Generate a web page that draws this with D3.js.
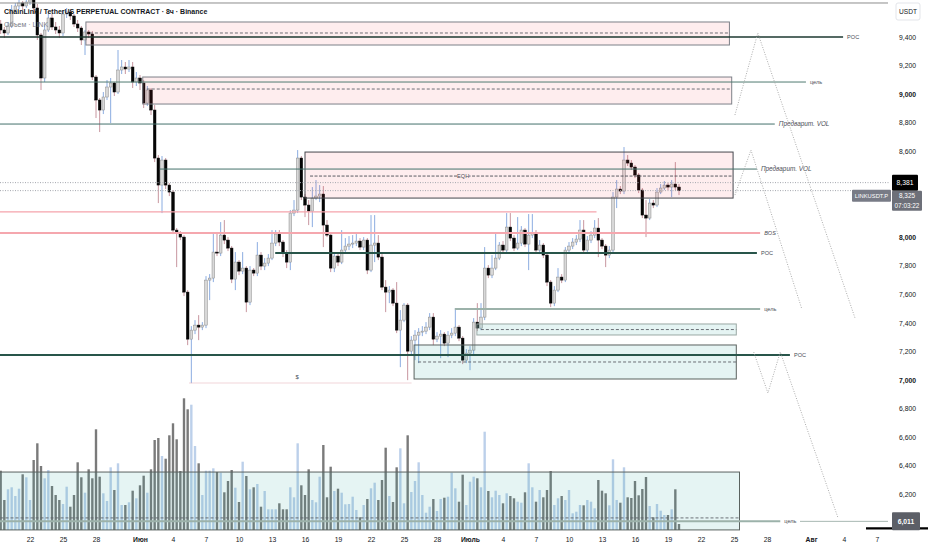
<!DOCTYPE html>
<html>
<head>
<meta charset="utf-8">
<script src="https://cdn.jsdelivr.net/npm/d3@7"></script>
<style>
  html, body { margin: 0; padding: 0; background: #fff; }
  svg { display: block; font-family: "Liberation Sans", Arial, sans-serif; }
</style>
</head>
<body>
<svg id="chart" width="932" height="550"></svg>
<script>
// LINKUSDT.P, 8h candles, 19 May -> 20 Jul
const firstBar = new Date(2022, 4, 19, 8);
const barHours = 8;
const firstOpen = 9.491;

const closes = [
  9.449, 9.428, 9.477, 9.589, 9.617, 9.638, 9.617, 9.645, 9.659, 9.603,
  9.414, 9.113, 9.449, 9.533, 9.470, 9.449, 9.428, 9.561, 9.575, 9.547,
  9.491, 9.463, 9.379, 9.435, 9.421, 9.120, 8.959, 8.889, 8.980, 9.050,
  9.078, 9.015, 9.169, 9.190, 9.176, 9.190, 9.085, 9.113, 9.078, 8.938,
  9.029, 8.889, 8.553, 8.364, 8.539, 8.364, 8.315, 8.049, 8.028, 8.000,
  7.615, 7.286, 7.349, 7.384, 7.370, 7.384, 7.699, 7.713, 7.895, 7.888,
  8.014, 7.979, 7.923, 7.706, 7.825, 7.762, 7.783, 7.545, 7.769, 7.748,
  7.874, 7.797, 7.818, 7.853, 7.958, 8.021, 7.965, 7.888, 7.825, 8.168,
  8.189, 8.553, 8.280, 8.224, 8.182, 8.273, 8.287, 8.301, 8.084, 8.014,
  7.783, 7.867, 7.825, 7.909, 7.937, 7.951, 7.958, 7.972, 7.930, 7.979,
  7.769, 7.944, 7.958, 7.860, 7.650, 7.615, 7.629, 7.538, 7.349, 7.419,
  7.524, 7.202, 7.279, 7.314, 7.335, 7.342, 7.370, 7.440, 7.286, 7.307,
  7.321, 7.258, 7.314, 7.328, 7.370, 7.293, 7.139, 7.188, 7.209, 7.405,
  7.363, 7.440, 7.783, 7.734, 7.783, 7.853, 7.944, 7.909, 8.070, 7.993,
  7.923, 7.958, 8.049, 7.951, 8.014, 8.028, 7.909, 7.944, 7.874, 7.685,
  7.538, 7.629, 7.720, 7.699, 7.909, 7.937, 7.965, 7.986, 8.049, 7.909,
  7.979, 8.014, 8.063, 7.979, 7.937, 7.874, 7.909, 8.280, 8.336, 8.322,
  8.539, 8.518, 8.490, 8.434, 8.329, 8.154, 8.133, 8.238, 8.224, 8.315,
  8.343, 8.364, 8.350, 8.371, 8.350, 8.325
];

const highs = [
  9.519, 9.470, 9.505, 9.624, 9.638, 9.659, 9.652, 9.680, 9.701, 9.680,
  9.631, 9.428, 9.484, 9.575, 9.561, 9.505, 9.477, 9.589, 9.603, 9.589,
  9.561, 9.519, 9.477, 9.449, 9.449, 9.442, 9.134, 8.973, 9.015, 9.099,
  9.113, 9.085, 9.309, 9.239, 9.225, 9.239, 9.225, 9.155, 9.134, 9.099,
  9.057, 9.043, 8.924, 8.574, 8.567, 8.553, 8.378, 8.329, 8.063, 8.042,
  8.014, 7.629, 7.377, 7.419, 7.454, 7.405, 7.727, 7.741, 8.028, 8.028,
  8.105, 8.119, 8.000, 7.937, 7.895, 7.839, 7.895, 7.797, 7.797, 7.783,
  7.965, 7.895, 7.853, 7.881, 8.049, 8.049, 8.049, 7.979, 7.909, 8.189,
  8.259, 8.609, 8.567, 8.301, 8.259, 8.350, 8.399, 8.364, 8.357, 8.119,
  8.035, 7.895, 7.881, 8.049, 7.993, 8.007, 8.014, 8.021, 7.993, 8.000,
  7.993, 8.154, 8.154, 8.014, 7.881, 7.699, 7.657, 7.643, 7.685, 7.489,
  7.538, 7.538, 7.307, 7.349, 7.363, 7.377, 7.405, 7.468, 7.468, 7.335,
  7.349, 7.335, 7.342, 7.363, 7.503, 7.384, 7.307, 7.216, 7.237, 7.433,
  7.538, 7.538, 7.930, 7.804, 7.874, 8.028, 7.965, 7.972, 8.168, 8.168,
  8.014, 8.140, 8.077, 8.063, 8.161, 8.161, 8.049, 7.979, 7.958, 7.895,
  7.699, 7.657, 7.783, 7.741, 7.930, 7.965, 7.993, 8.014, 8.119, 8.119,
  8.007, 8.042, 8.119, 8.133, 7.993, 7.951, 7.937, 8.315, 8.399, 8.357,
  8.630, 8.574, 8.539, 8.504, 8.448, 8.343, 8.259, 8.266, 8.259, 8.343,
  8.371, 8.392, 8.378, 8.399, 8.525, 8.371
];

const lows = [
  9.421, 9.393, 9.414, 9.463, 9.575, 9.596, 9.589, 9.603, 9.624, 9.561,
  9.379, 9.029, 9.085, 9.435, 9.449, 9.421, 9.393, 9.407, 9.533, 9.519,
  9.470, 9.435, 9.344, 9.274, 9.393, 9.099, 8.833, 8.735, 8.861, 8.959,
  8.798, 8.987, 9.001, 9.141, 9.141, 9.155, 9.043, 9.057, 9.029, 8.903,
  8.917, 8.854, 8.525, 8.238, 8.168, 8.336, 8.287, 8.021, 7.790, 7.979,
  7.587, 7.244, 6.978, 7.321, 7.279, 7.349, 7.363, 7.559, 7.685, 7.867,
  7.867, 7.951, 7.902, 7.678, 7.629, 7.734, 7.741, 7.475, 7.524, 7.727,
  7.727, 7.769, 7.769, 7.797, 7.839, 7.937, 7.937, 7.860, 7.783, 7.769,
  8.147, 8.168, 8.259, 8.140, 8.084, 8.070, 8.259, 8.245, 7.930, 8.000,
  7.755, 7.755, 7.797, 7.811, 7.895, 7.909, 7.923, 7.937, 7.909, 7.909,
  7.741, 7.755, 7.825, 7.839, 7.629, 7.475, 7.538, 7.517, 7.328, 7.090,
  7.405, 6.999, 7.181, 7.139, 7.118, 7.307, 7.321, 7.349, 7.244, 7.265,
  7.153, 7.237, 7.160, 7.293, 7.307, 7.272, 7.111, 7.118, 7.069, 7.181,
  7.342, 7.349, 7.419, 7.713, 7.713, 7.769, 7.839, 7.888, 7.895, 7.972,
  7.902, 7.909, 7.937, 7.930, 7.769, 7.993, 7.888, 7.881, 7.853, 7.657,
  7.510, 7.517, 7.615, 7.678, 7.685, 7.888, 7.916, 7.944, 7.965, 7.888,
  7.895, 7.958, 7.993, 7.860, 7.916, 7.790, 7.853, 7.888, 8.203, 8.301,
  8.301, 8.497, 8.469, 8.413, 8.308, 8.133, 8.000, 8.119, 8.203, 8.210,
  8.301, 8.329, 8.329, 8.280, 8.329, 8.294
];

// volume, thousands of LINK
const volumes = [
  593, 300, 407, 427, 340, 413, 557, 527, 300, 700,
  867, 640, 517, 600, 440, 350, 300, 260, 433, 233,
  350, 677, 527, 373, 607, 517, 1007, 533, 367, 290,
  627, 400, 667, 250, 250, 277, 393, 317, 447, 543,
  373, 607, 900, 920, 740, 713, 947, 1067, 907, 590,
  1317, 1207, 1253, 840, 667, 350, 593, 593, 617, 580,
  573, 377, 490, 600, 423, 280, 683, 540, 407, 427,
  460, 233, 390, 207, 207, 207, 267, 207, 207, 427,
  327, 867, 447, 350, 607, 300, 277, 533, 850, 327,
  633, 390, 413, 373, 257, 260, 333, 200, 127, 250,
  310, 417, 473, 300, 500, 823, 340, 280, 627, 817,
  267, 947, 380, 490, 677, 350, 173, 233, 310, 190,
  310, 323, 333, 573, 417, 283, 553, 250, 483, 533,
  517, 427, 983, 390, 327, 393, 350, 267, 367, 340,
  317, 283, 273, 377, 667, 427, 283, 400, 327, 400,
  590, 250, 317, 340, 300, 400, 167, 183, 250, 247,
  300, 283, 217, 500, 393, 367, 247, 707, 300, 273,
  627, 327, 320, 490, 347, 410, 530, 240, 127, 260,
  193, 150, 150, 207, 407, 60
];

// 8,400 and 8,200 sit under the price badges, so they are left out
const priceTicks = [9.4, 9.2, 9.0, 8.8, 8.6, 8.0, 7.8, 7.6, 7.4, 7.2, 7.0, 6.8, 6.6, 6.4, 6.2];

const dateTicks = [
  new Date(2022, 4, 22), new Date(2022, 4, 25), new Date(2022, 4, 28),
  new Date(2022, 5, 1), new Date(2022, 5, 4), new Date(2022, 5, 7), new Date(2022, 5, 10),
  new Date(2022, 5, 13), new Date(2022, 5, 16), new Date(2022, 5, 19), new Date(2022, 5, 22),
  new Date(2022, 5, 25), new Date(2022, 5, 28),
  new Date(2022, 6, 1), new Date(2022, 6, 4), new Date(2022, 6, 7), new Date(2022, 6, 10),
  new Date(2022, 6, 13), new Date(2022, 6, 16), new Date(2022, 6, 19), new Date(2022, 6, 22),
  new Date(2022, 6, 25), new Date(2022, 6, 28),
  new Date(2022, 7, 1), new Date(2022, 7, 4), new Date(2022, 7, 7)
];
const dateLabels = ["22", "25", "28", "Июн", "4", "7", "10", "13", "16", "19", "22", "25", "28",
  "Июль", "4", "7", "10", "13", "16", "19", "22", "25", "28", "Авг", "4", "7"];
const monthLabels = ["Июн", "Июль", "Авг"];

// drawings on the chart (price / time)
const zones = [
  { from: new Date(2022, 4, 27, 2), to: new Date(2022, 6, 24, 14), top: 9.505, bottom: 9.344, mid: 9.428, kind: "supply" },
  { from: new Date(2022, 5, 1, 6), to: new Date(2022, 6, 24, 19), top: 9.120, bottom: 8.931, mid: 9.036, kind: "supply" },
  { from: new Date(2022, 5, 16, 0), to: new Date(2022, 6, 24, 22), top: 8.595, bottom: 8.273, mid: null, kind: "supplyDark" },
  { from: new Date(2022, 6, 1, 15), to: new Date(2022, 6, 25, 5), top: 7.392, bottom: 7.315, mid: 7.353, kind: "demandLight" },
  { from: new Date(2022, 5, 25, 22), to: new Date(2022, 6, 25, 5), top: 7.245, bottom: 7.007, mid: 7.126, kind: "demand" },
  { from: new Date(2022, 4, 18, 12), to: new Date(2022, 6, 25, 12), top: 6.356, bottom: 5.951, mid: 6.035, kind: "demand" }
];

const levels = [
  { price: 9.638, from: null, to: new Date(2022, 7, 8), label: "", kind: "frame" },
  { price: 9.400, from: null, to: new Date(2022, 7, 3, 22), label: "POC", kind: "pocDark" },
  { price: 9.085, from: null, to: new Date(2022, 6, 31, 13), label: "цель", kind: "target" },
  { price: 8.791, from: null, to: new Date(2022, 6, 28, 17), label: "Предварит. VOL", kind: "vol" },
  { price: 8.476, from: new Date(2022, 5, 2, 19), to: new Date(2022, 6, 27, 2), label: "Предварит. VOL", kind: "vol" },
  { price: 8.176, from: null, to: new Date(2022, 6, 12, 12), label: "", kind: "red" },
  { price: 8.029, from: null, to: new Date(2022, 6, 27, 9), label: "BOS", kind: "bos" },
  { price: 7.889, from: new Date(2022, 5, 13, 7), to: new Date(2022, 6, 27, 2), label: "POC", kind: "poc" },
  { price: 7.497, from: new Date(2022, 5, 29, 15), to: new Date(2022, 6, 27, 9), label: "цель", kind: "targetLight" },
  { price: 7.175, from: null, to: new Date(2022, 6, 30, 2), label: "POC", kind: "poc" },
  { price: 6.011, from: null, to: new Date(2022, 6, 29, 5), label: "цель", kind: "targetLight",
    tailFrom: new Date(2022, 6, 31, 0), tailTo: new Date(2022, 7, 8) }
];

const eqh = { price: 8.427, from: new Date(2022, 5, 16, 11), to: new Date(2022, 6, 24, 22), at: new Date(2022, 5, 30, 9), label: "EQH" };
const sweep = { price: 6.979, from: new Date(2022, 5, 5, 12), to: new Date(2022, 5, 25, 17), labelAt: new Date(2022, 5, 15, 7), labelPrice: 7.02, label: "$" };

const projections = [
  [[new Date(2022, 6, 25, 2), 8.854], [new Date(2022, 6, 27, 4), 9.428], [new Date(2022, 7, 5, 0), 7.434]],
  [[new Date(2022, 6, 25, 2), 8.294], [new Date(2022, 6, 26, 13), 8.609], [new Date(2022, 6, 31, 4), 7.497]],
  [[new Date(2022, 6, 26, 19), 7.196], [new Date(2022, 6, 28, 2), 6.909], [new Date(2022, 6, 29, 5), 7.196], [new Date(2022, 7, 3, 11), 6.035]]
];

const lastPrice = 8.325;
const prevPrice = 8.381;
const countdown = "07:03:22";
const targetPrice = 6.011;
const volumeLine = { price: 5.962, from: new Date(2022, 7, 6) };

// ---------------------------------------------------------------
const width = 932, height = 550, plotRight = 890;

const bars = closes.map((c, i) => ({
  t: d3.timeHour.offset(firstBar, i * barHours),
  o: i === 0 ? firstOpen : closes[i - 1],
  h: highs[i],
  l: lows[i],
  c: c,
  v: volumes[i]
}));

const x = d3.scaleTime()
  .domain([new Date(2022, 4, 19), new Date(2022, 7, 8)])
  .range([-3, 888]);

const y = d3.scaleLinear()
  .domain([7.0, 9.4])
  .range([380, 37]);

const yVol = d3.scaleLinear()
  .domain([0, 1500])
  .range([530, 380]);

const loc = d3.formatLocale({ decimal: ",", thousands: " ", grouping: [3], currency: ["", ""] });
const fmt = loc.format(".3f");

const step = x(d3.timeHour.offset(firstBar, barHours)) - x(firstBar);
const bodyW = step * 0.72;

const svg = d3.select("#chart");

svg.append("defs").append("clipPath").attr("id", "plot")
  .append("rect").attr("x", 0).attr("y", 0).attr("width", plotRight).attr("height", height);

const plot = svg.append("g").attr("clip-path", "url(#plot)");

// volume
plot.append("g").selectAll("rect")
  .data(bars)
  .join("rect")
  .attr("x", d => x(d.t) - bodyW * 0.45)
  .attr("y", d => yVol(d.v))
  .attr("width", bodyW * 0.9)
  .attr("height", d => yVol(0) - yVol(d.v))
  .attr("fill", d => d.c >= d.o ? "#bcd0ea" : "#7a7a7a");

// candles
const candle = plot.append("g").selectAll("g")
  .data(bars)
  .join("g");

candle.append("line")
  .attr("x1", d => x(d.t)).attr("x2", d => x(d.t))
  .attr("y1", d => y(d.h)).attr("y2", d => y(d.l))
  .attr("stroke", d => d.c >= d.o ? "#7ea3de" : "#c28a94")
  .attr("stroke-width", 0.9);

candle.append("rect")
  .attr("x", d => x(d.t) - bodyW / 2)
  .attr("y", d => y(Math.max(d.o, d.c)))
  .attr("width", bodyW)
  .attr("height", d => Math.max(1, Math.abs(y(d.o) - y(d.c))))
  .attr("fill", d => d.c >= d.o ? "#d8d8d8" : "#050505")
  .attr("stroke", d => d.c >= d.o ? "#8a8a8a" : "#050505")
  .attr("stroke-width", 0.5);

// zones
const zoneStyle = {
  supply: { fill: "rgba(242,54,69,0.09)", stroke: "#7d8088" },
  supplyDark: { fill: "rgba(242,54,69,0.09)", stroke: "#45474d" },
  demandLight: { fill: "rgba(38,166,154,0.12)", stroke: "#9aa8a4" },
  demand: { fill: "rgba(38,166,154,0.12)", stroke: "#5a625f" }
};

const zoneG = plot.append("g").selectAll("g").data(zones).join("g");
zoneG.append("rect")
  .attr("x", d => x(d.from))
  .attr("y", d => y(d.top))
  .attr("width", d => x(d.to) - x(d.from))
  .attr("height", d => y(d.bottom) - y(d.top))
  .attr("fill", d => zoneStyle[d.kind].fill)
  .attr("stroke", d => zoneStyle[d.kind].stroke)
  .attr("stroke-width", 1);
zoneG.filter(d => d.mid !== null).append("line")
  .attr("x1", d => x(d.from) + 4).attr("x2", d => x(d.to))
  .attr("y1", d => y(d.mid)).attr("y2", d => y(d.mid))
  .attr("stroke", "#5d6068")
  .attr("stroke-width", 0.9)
  .attr("stroke-dasharray", "3,2");

// horizontal levels
const levelStyle = {
  frame: { stroke: "#8c8c8c", w: 1 },
  pocDark: { stroke: "#1d3831", w: 1.3 },
  target: { stroke: "#4f7a71", w: 1 },
  vol: { stroke: "#44716b", w: 1 },
  red: { stroke: "#f5a3ab", w: 1.3 },
  bos: { stroke: "#f5a7ae", w: 2 },
  poc: { stroke: "#28554a", w: 2 },
  targetLight: { stroke: "#9cb2aa", w: 2 }
};

const x0 = x.range()[0] - 10;
const lvl = svg.append("g").selectAll("g").data(levels).join("g");
lvl.append("line")
  .attr("x1", d => d.from ? x(d.from) : x0)
  .attr("x2", d => x(d.to))
  .attr("y1", d => y(d.price)).attr("y2", d => y(d.price))
  .attr("stroke", d => levelStyle[d.kind].stroke)
  .attr("stroke-width", d => levelStyle[d.kind].w);
lvl.filter(d => d.tailFrom).append("line")
  .attr("x1", d => x(d.tailFrom)).attr("x2", d => x(d.tailTo))
  .attr("y1", d => y(d.price)).attr("y2", d => y(d.price))
  .attr("stroke", "#a7b8b2")
  .attr("stroke-width", 1);
lvl.filter(d => d.label).append("text")
  .attr("x", d => x(d.to) + 4)
  .attr("y", d => y(d.price))
  .attr("dy", "0.35em")
  .attr("font-size", d => d.kind === "vol" ? 6.4 : 5.6)
  .attr("font-style", d => (d.kind === "vol" || d.kind === "bos") ? "italic" : "normal")
  .attr("fill", "#4a4d55")
  .text(d => d.label);

// EQH
svg.append("line")
  .attr("x1", x(eqh.from)).attr("x2", x(eqh.to))
  .attr("y1", y(eqh.price)).attr("y2", y(eqh.price))
  .attr("stroke", "#4a4d55").attr("stroke-width", 0.9).attr("stroke-dasharray", "3,1.5");
svg.append("rect")
  .attr("x", x(eqh.at) - 6).attr("y", y(eqh.price) - 3.5)
  .attr("width", 12).attr("height", 7)
  .attr("fill", "#fdeced");
svg.append("text")
  .attr("x", x(eqh.at)).attr("y", y(eqh.price)).attr("dy", "0.35em")
  .attr("text-anchor", "middle").attr("font-size", 5.6).attr("fill", "#4a4d55")
  .text(eqh.label);

// liquidity sweep
svg.append("line")
  .attr("x1", x(sweep.from)).attr("x2", x(sweep.to))
  .attr("y1", y(sweep.price)).attr("y2", y(sweep.price))
  .attr("stroke", "#e4aab4").attr("stroke-width", 1.2).attr("stroke-dasharray", "1,1");
svg.append("text")
  .attr("x", x(sweep.labelAt)).attr("y", y(sweep.labelPrice)).attr("dy", "0.35em")
  .attr("text-anchor", "middle").attr("font-size", 6).attr("fill", "#4a4d55")
  .text(sweep.label);

// current price dotted lines
svg.append("g").selectAll("line")
  .data([prevPrice, lastPrice])
  .join("line")
  .attr("x1", 0).attr("x2", plotRight)
  .attr("y1", d => y(d)).attr("y2", d => y(d))
  .attr("stroke", "#a3a6ad").attr("stroke-width", 1).attr("stroke-dasharray", "1,1.5");

// projected paths
const pathLine = d3.line().x(d => x(d[0])).y(d => y(d[1]));
svg.append("g").selectAll("path")
  .data(projections)
  .join("path")
  .attr("d", pathLine)
  .attr("fill", "none")
  .attr("stroke", "#a4a4a4")
  .attr("stroke-width", 0.9)
  .attr("stroke-dasharray", "1,1.5");

// black bar under the target label
svg.append("line")
  .attr("x1", x(volumeLine.from)).attr("x2", width - 4)
  .attr("y1", y(volumeLine.price)).attr("y2", y(volumeLine.price))
  .attr("stroke", "#000").attr("stroke-width", 2.4);

// title
svg.append("text")
  .attr("x", 4).attr("y", 14)
  .attr("font-size", 7).attr("font-weight", 600).attr("fill", "#131722")
  .text("ChainLink / TetherUS PERPETUAL CONTRACT · 8ч · Binance");
svg.append("text")
  .attr("x", 4).attr("y", 27)
  .attr("font-size", 7).attr("fill", "#7d8089")
  .text("Объем · LINK");

// price axis
const yAxis = svg.append("g")
  .attr("transform", `translate(896,0)`)
  .call(d3.axisRight(y).tickValues(priceTicks).tickSize(0).tickPadding(3).tickFormat(fmt));
yAxis.select(".domain").remove();
yAxis.selectAll("text")
  .attr("font-size", 6.8)
  .attr("font-family", "'Liberation Sans', Arial, sans-serif")
  .attr("fill", "#131722")
  .attr("font-weight", d => Math.abs(d - Math.round(d)) < 1e-9 ? 700 : 400);

// time axis
const xAxis = svg.append("g")
  .attr("transform", `translate(0,533)`)
  .call(d3.axisBottom(x).tickValues(dateTicks).tickSize(0).tickPadding(4).tickFormat((d, i) => dateLabels[i]));
xAxis.select(".domain").remove();
xAxis.selectAll("text")
  .attr("font-size", 6.8)
  .attr("font-family", "'Liberation Sans', Arial, sans-serif")
  .attr("fill", "#131722")
  .attr("font-weight", (d, i) => monthLabels.includes(dateLabels[i]) ? 700 : 400);

// currency badge
svg.append("rect")
  .attr("x", 896).attr("y", 3).attr("width", 24).attr("height", 17).attr("rx", 2)
  .attr("fill", "#fff").attr("stroke", "#e3e5ea");
svg.append("text")
  .attr("x", 908).attr("y", 11.5).attr("dy", "0.35em").attr("text-anchor", "middle")
  .attr("font-size", 6.6).attr("fill", "#131722").text("USDT");

// price badges
function badge(px, py, w, h, fill, lines, size, bold) {
  svg.append("rect").attr("x", px).attr("y", py).attr("width", w).attr("height", h)
    .attr("rx", 1).attr("fill", fill);
  lines.forEach((t, i) => {
    svg.append("text")
      .attr("x", px + w / 2).attr("y", py + (i + 0.5) * (h / lines.length)).attr("dy", "0.36em")
      .attr("text-anchor", "middle").attr("font-size", size).attr("fill", "#fff")
      .attr("font-weight", bold ? 700 : 400)
      .text(t);
  });
}

badge(892, y(prevPrice) - 8, 26, 16, "#000", [fmt(prevPrice)], 6.8, false);
badge(852, y(lastPrice) - 1, 39, 12, "#787b86", ["LINKUSDT.P"], 5.8, false);
badge(892, y(lastPrice), 30, 20, "#6d7079", [fmt(lastPrice), countdown], 6.4, false);
badge(892, y(targetPrice) - 9, 28, 18, "#5c5f67", [fmt(targetPrice)], 6.8, true);
</script>
</body>
</html>
